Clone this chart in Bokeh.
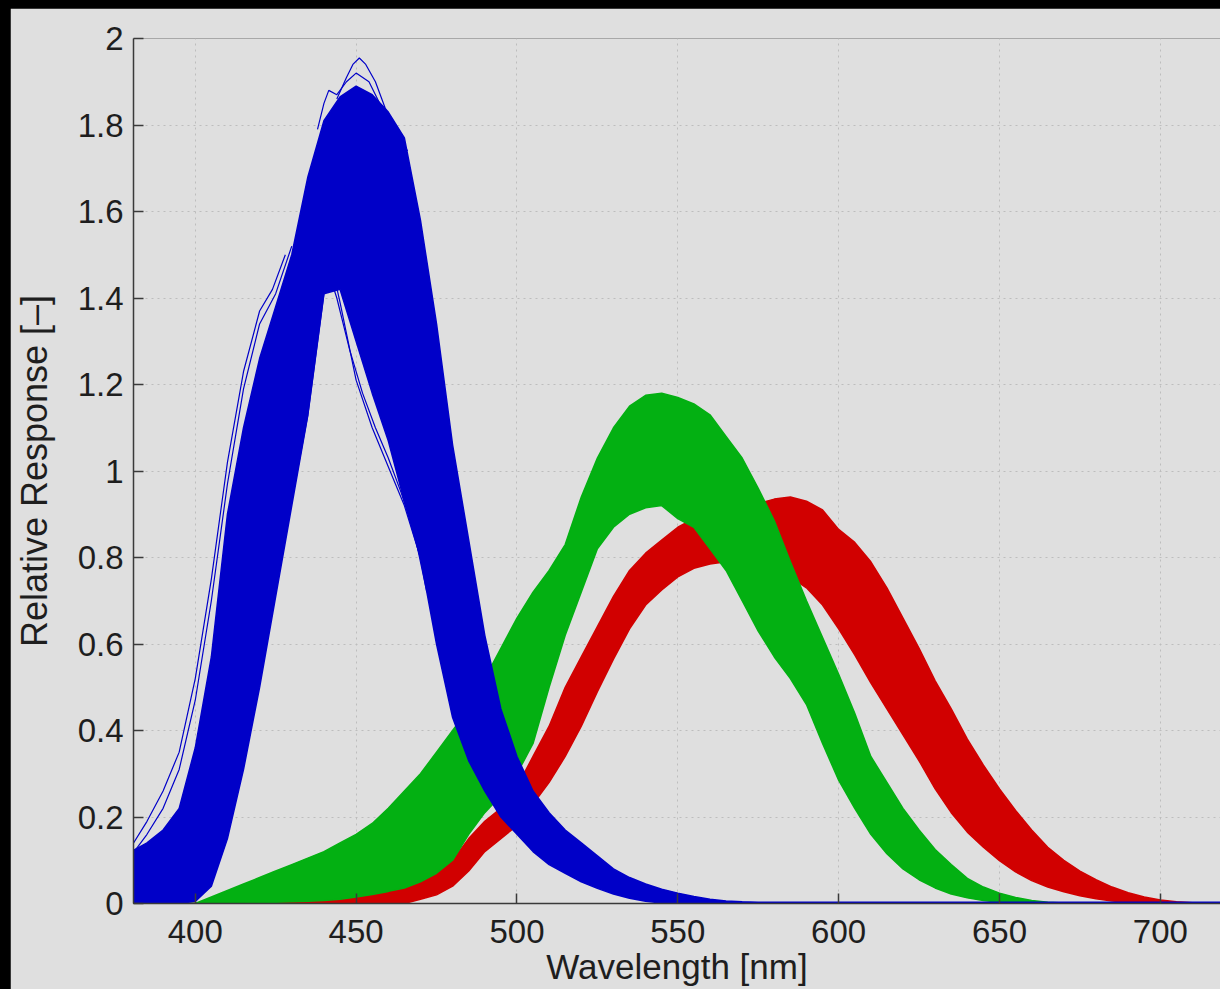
from bokeh.plotting import figure
from bokeh.models import ColumnDataSource, FixedTicker, CustomJSTickFormatter, Spacer
from bokeh.layouts import column, row
from bokeh.embed import file_html
from bokeh.resources import INLINE

# ---- spectral sensitivity envelopes (relative response vs wavelength) ----
wavelength = list(range(380, 725, 5))

blue_upper = [0.12, 0.14, 0.17, 0.22, 0.36, 0.57, 0.90, 1.10, 1.26, 1.38,
              1.50, 1.68, 1.81, 1.865, 1.89, 1.87, 1.83, 1.77, 1.58, 1.34,
              1.06, 0.84, 0.62, 0.45, 0.34, 0.26, 0.21, 0.17, 0.14, 0.11,
              0.08, 0.06, 0.045, 0.033, 0.024, 0.016, 0.010, 0.006, 0.004] + [0.003] * 30
blue_lower = [0, 0, 0, 0, 0.005, 0.04, 0.15, 0.31, 0.50, 0.71,
              0.92, 1.13, 1.41, 1.42, 1.30, 1.18, 1.07, 0.93, 0.80, 0.60,
              0.43, 0.33, 0.26, 0.20, 0.16, 0.12, 0.09, 0.07, 0.05, 0.035,
              0.022, 0.012, 0.005, 0.001] + [0] * 35

green_upper = [0, 0, 0, 0, 0.0, 0.015, 0.03, 0.045, 0.06, 0.075,
               0.09, 0.105, 0.12, 0.14, 0.16, 0.185, 0.22, 0.26, 0.30, 0.35,
               0.40, 0.45, 0.52, 0.59, 0.66, 0.72, 0.77, 0.83, 0.94, 1.03,
               1.10, 1.15, 1.175, 1.18, 1.17, 1.155, 1.13, 1.08, 1.03, 0.96,
               0.885, 0.79, 0.70, 0.615, 0.53, 0.44, 0.34, 0.28, 0.22, 0.17,
               0.125, 0.09, 0.058, 0.038, 0.024, 0.014, 0.007, 0.003, 0.001] + [0] * 10
green_lower = [0, 0, 0, 0, 0, 0, 0, 0.001, 0.002, 0.003,
               0.004, 0.005, 0.007, 0.01, 0.015, 0.021, 0.028, 0.036, 0.05, 0.07,
               0.10, 0.16, 0.21, 0.25, 0.30, 0.37, 0.50, 0.62, 0.72, 0.82,
               0.87, 0.90, 0.915, 0.92, 0.89, 0.87, 0.82, 0.77, 0.70, 0.63,
               0.57, 0.52, 0.46, 0.37, 0.285, 0.22, 0.16, 0.115, 0.08, 0.055,
               0.036, 0.022, 0.013, 0.007, 0.003, 0.001] + [0] * 13

red_upper = [0] * 8 + [0.0, 0.003, 0.006, 0.01, 0.013, 0.017, 0.022, 0.028, 0.035, 0.043,
                       0.055, 0.075, 0.10, 0.15, 0.19, 0.22, 0.27, 0.34, 0.41, 0.50,
                       0.57, 0.64, 0.71, 0.77, 0.81, 0.84, 0.87, 0.89, 0.905, 0.915,
                       0.92, 0.925, 0.935, 0.94, 0.93, 0.91, 0.865, 0.835, 0.79, 0.73,
                       0.66, 0.59, 0.515, 0.45, 0.38, 0.32, 0.265, 0.215, 0.17, 0.13,
                       0.10, 0.075, 0.055, 0.038, 0.025, 0.015, 0.008, 0.004, 0.002, 0.001, 0]
red_lower = [0] * 18 + [0.01, 0.02, 0.04, 0.075, 0.12, 0.15, 0.18, 0.23, 0.28, 0.34,
                        0.41, 0.49, 0.565, 0.635, 0.69, 0.725, 0.755, 0.775, 0.785, 0.79,
                        0.785, 0.78, 0.77, 0.755, 0.73, 0.69, 0.635, 0.575, 0.51, 0.45,
                        0.39, 0.33, 0.265, 0.21, 0.165, 0.13, 0.099, 0.073, 0.053, 0.038,
                        0.027, 0.018, 0.011, 0.006, 0.003, 0.001] + [0] * 5

# individual blue curves lying outside the dense bundle
blue_peak_a_wl = [444, 447, 449, 451, 453, 456, 459, 462, 466]
blue_peak_a = [1.86, 1.91, 1.94, 1.955, 1.94, 1.90, 1.84, 1.79, 1.74]
blue_peak_b_wl = [438, 440, 441.5, 444, 447, 450, 454, 458]
blue_peak_b = [1.79, 1.85, 1.88, 1.87, 1.90, 1.92, 1.90, 1.84]
blue_left_a_wl = [380, 385, 390, 395, 400, 405, 410, 415, 420, 424, 428]
blue_left_a = [0.13, 0.19, 0.26, 0.35, 0.52, 0.75, 1.02, 1.23, 1.37, 1.42, 1.50]
blue_left_b_wl = [380, 385, 390, 395, 400, 405, 410, 415, 420, 425, 430]
blue_left_b = [0.11, 0.16, 0.22, 0.31, 0.47, 0.70, 0.97, 1.19, 1.34, 1.41, 1.52]
blue_notch_a_wl = [430, 435, 440, 442, 445, 450, 455, 460, 465, 470, 475]
blue_notch_a = [0.93, 1.13, 1.41, 1.49, 1.39, 1.21, 1.10, 1.01, 0.92, 0.80, 0.62]
blue_notch_b_wl = [441, 444, 448, 452, 456, 460, 464, 468, 472]
blue_notch_b = [1.47, 1.40, 1.28, 1.18, 1.10, 1.03, 0.95, 0.86, 0.72]

x_ticks = [400, 450, 500, 550, 600, 650, 700]
y_ticks = [0, 0.2, 0.4, 0.6, 0.8, 1.0, 1.2, 1.4, 1.6, 1.8, 2.0]

BG = "#dfdfdf"
INK = "#1e1e1e"
AXIS = "#3a3a3a"
RED = "#d10000"
GREEN = "#03b012"
BLUE = "#0000c8"
FONT = "Liberation Sans"

p = figure(width=1210, height=981, x_range=(380.8, 718.7), y_range=(0, 2),
           output_backend="svg", toolbar_location=None,
           background_fill_color=BG, border_fill_color=BG,
           min_border_left=117, min_border_right=0,
           min_border_top=30, min_border_bottom=86)
p.outline_line_color = None

source = ColumnDataSource(dict(wl=wavelength,
                               r_hi=red_upper, r_lo=red_lower,
                               g_hi=green_upper, g_lo=green_lower,
                               b_hi=blue_upper, b_lo=blue_lower))

# bundles drawn red, green, then blue on top
for hi, lo, col in (("r_hi", "r_lo", RED), ("g_hi", "g_lo", GREEN), ("b_hi", "b_lo", BLUE)):
    p.varea(x="wl", y1=lo, y2=hi, source=source, fill_color=col)
    p.line(x="wl", y=hi, source=source, line_color=col, line_width=1.5)
    p.line(x="wl", y=lo, source=source, line_color=col, line_width=1.5)

for xs, ys in ((blue_peak_a_wl, blue_peak_a), (blue_peak_b_wl, blue_peak_b),
               (blue_left_a_wl, blue_left_a), (blue_left_b_wl, blue_left_b),
               (blue_notch_a_wl, blue_notch_a), (blue_notch_b_wl, blue_notch_b)):
    p.line(xs, ys, line_color=BLUE, line_width=1.2)

# axes
p.xaxis.ticker = FixedTicker(ticks=x_ticks)
p.yaxis.ticker = FixedTicker(ticks=y_ticks)
p.yaxis.formatter = CustomJSTickFormatter(code="return Number(tick.toFixed(1)).toString();")
p.xaxis.axis_label = "Wavelength [nm]"
p.yaxis.axis_label = "Relative Response [–]"

for ax in (p.xaxis[0], p.yaxis[0]):
    ax.axis_line_color = AXIS
    ax.axis_line_width = 1.5
    ax.major_tick_line_color = AXIS
    ax.major_tick_line_width = 1.5
    ax.major_tick_in = 10
    ax.major_tick_out = 0
    ax.minor_tick_line_color = None
    ax.major_label_text_font = FONT
    ax.major_label_text_font_size = "33px"
    ax.major_label_text_color = INK
    ax.axis_label_text_font = FONT
    ax.axis_label_text_font_style = "normal"
    ax.axis_label_text_color = INK

p.xaxis.axis_label_text_font_size = "35px"
p.yaxis.axis_label_text_font_size = "36px"
p.xaxis.major_label_standoff = 16
p.xaxis.axis_label_standoff = 1
p.yaxis.major_label_standoff = 10
p.yaxis.axis_label_standoff = 20

for g in (p.xgrid[0], p.ygrid[0]):
    g.grid_line_color = "#bdbdbd"
    g.grid_line_dash = "2 4"
    g.grid_line_width = 1
p.xgrid.ticker = FixedTicker(ticks=x_ticks)
p.ygrid.ticker = FixedTicker(ticks=y_ticks)

page = column(Spacer(width=1220, height=8),
              row(Spacer(width=10, height=981), p),
              styles={"background-color": "#000000"})

open("out.html", "w").write(file_html(page, INLINE))
